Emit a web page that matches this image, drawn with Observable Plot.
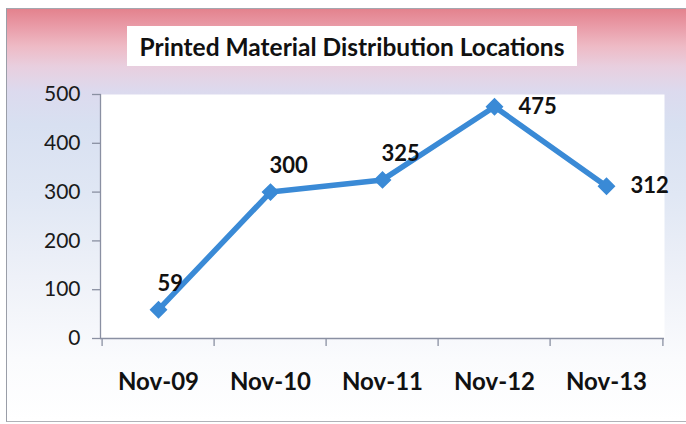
<!DOCTYPE html>
<html>
<head>
<meta charset="utf-8">
<script src="https://cdn.jsdelivr.net/npm/d3@7"></script>
<script src="https://cdn.jsdelivr.net/npm/@observablehq/plot@0.6"></script>
<style>
  html, body { margin: 0; padding: 0; background: #fff; }
  #wrap { position: relative; width: 686px; height: 424px; overflow: hidden; background: #fff; }
  #panel {
    position: absolute; left: 6px; top: 8px; right: -2px; bottom: 2px;
    border-left: 1.5px solid #9a9ea8; border-top: 1.5px solid #a4a6ae; border-bottom: 1.5px solid #b0b2b8;
    background: linear-gradient(to bottom, #e3828d 0%, #e99aa6 4%, #eebac5 9%, #e8cfdf 14%, #dcdaee 20%, #d8e0f1 28%, #e0e7f4 45%, #eef1f8 65%, #fafbfd 85%, #ffffff 100%);
  }
  #title {
    position: absolute; left: 127px; top: 26px; width: 450px; height: 40px;
    background: #fff; display: flex; align-items: center; justify-content: center;
    font-family: Lato, sans-serif; font-weight: 700; font-size: 24.5px; color: #111;
  }
  #chart { position: absolute; left: 0; top: 0; }
</style>
</head>
<body>
<div id="wrap">
  <div id="panel"></div>
  <div id="chart"></div>
  <div id="title">Printed Material Distribution Locations</div>
</div>
<script>
const title = "Printed Material Distribution Locations";
const months = ["Nov-09", "Nov-10", "Nov-11", "Nov-12", "Nov-13"];
const locations = [59, 300, 325, 475, 312];
const yTicks = [0, 100, 200, 300, 400, 500];

const data = months.map((m, i) => ({month: m, value: locations[i]}));
const blue = "#3a8ad6";
const axisColor = "#8a90a2";

const W = 686, H = 424;
const mL = 100, mR = 22, mT = 94, mB = 86;
const band = (W - mL - mR) / months.length;

const plot = Plot.plot({
  width: W,
  height: H,
  marginLeft: mL,
  marginRight: mR,
  marginTop: mT,
  marginBottom: mB,
  style: {background: "transparent", overflow: "visible"},
  x: {type: "band", domain: months, padding: 0, label: null},
  y: {domain: [0, 500], label: null},
  marks: [
    Plot.frame({fill: "white", stroke: "none"}),
    Plot.ruleY([0], {stroke: axisColor, strokeWidth: 1.3}),
    Plot.frame({anchor: "left", stroke: axisColor, strokeWidth: 1.3}),
    Plot.axisY({ticks: yTicks, tickSize: 8, tickPadding: 12, stroke: axisColor, strokeWidth: 1.3,
      tickFormat: d => String(d), fontSize: 21, fill: "#1a1a1a", label: null}),
    Plot.axisX({tickSize: 0, tickPadding: 34, fontSize: 24, fontWeight: 700, fill: "#111", label: null}),
    Plot.axisX({tickSize: 8, tickFormat: () => "", dx: -band / 2, stroke: axisColor, strokeWidth: 1.3, label: null}),
    Plot.axisX({ticks: [months[months.length - 1]], tickSize: 8, tickFormat: () => "", dx: band / 2, stroke: axisColor, strokeWidth: 1.3, label: null}),
    Plot.line(data, {x: "month", y: "value", stroke: blue, strokeWidth: 5.5, strokeLinejoin: "miter"}),
    Plot.dot(data, {x: "month", y: "value", symbol: "square", rotate: 45, r: 6.3, fill: blue, stroke: blue}),
    Plot.text(data, {filter: (d, i) => i < 3, x: "month", y: "value", text: d => String(d.value),
      textAnchor: "start", dx: -1, dy: -26, fontSize: 22, fontWeight: 700, fill: "#111"}),
    Plot.text(data, {filter: (d, i) => i >= 3, x: "month", y: "value", text: d => String(d.value),
      textAnchor: "start", dx: 24, dy: 0, fontSize: 22, fontWeight: 700, fill: "#111"})
  ]
});
plot.style.fontFamily = "Lato, sans-serif";
d3.select(plot).selectAll("text").style("font-family", "Lato, sans-serif");
document.getElementById("chart").appendChild(plot);
document.getElementById("title").textContent = title;
</script>
</body>
</html>
